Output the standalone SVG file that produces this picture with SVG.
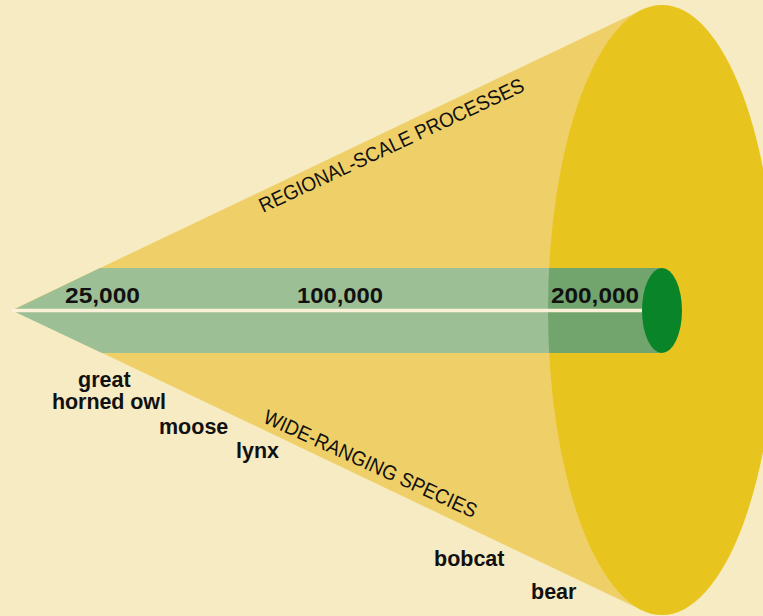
<svg xmlns="http://www.w3.org/2000/svg" width="763" height="616" viewBox="0 0 763 616">
<style>
.num{font-family:"Liberation Sans",Arial,sans-serif;font-weight:bold;font-size:22px;fill:#111}
.lab{font-family:"Liberation Sans",Arial,sans-serif;font-weight:bold;font-size:21.5px;fill:#111}
.rot{font-family:"Liberation Sans",Arial,sans-serif;font-size:20.5px;fill:#111}
</style>
<defs>
<clipPath id="bigClip"><ellipse cx="662" cy="310" rx="114" ry="305"/></clipPath>
</defs>
<rect width="763" height="616" fill="#F7EBC4"/>
<g id="cone">
<polygon points="12,310 642,9.7 642,610.3" fill="#EFD068"/>
</g>
<g id="cylinder">
<ellipse cx="662" cy="310" rx="114" ry="305" fill="#E8C51E"/>
</g>
<g id="band">
<polygon points="12,310.5 100,268 662,268 662,353 102,353" fill="#9DBF96"/>
<polygon points="12,310.5 100,268 662,268 662,353 102,353" fill="#72A56E" clip-path="url(#bigClip)"/>
</g>
<g id="connectors">
<line x1="12" y1="310.5" x2="648" y2="310.5" stroke="#FBF1D8" stroke-width="3.5"/>
</g>
<g id="core">
<ellipse cx="662" cy="310.5" rx="20" ry="42.5" fill="#0A8428"/>
</g>
<g id="scale-labels">
<text class="num" x="65" y="303" textLength="75" lengthAdjust="spacingAndGlyphs">25,000</text>
<text class="num" x="297" y="303" textLength="86" lengthAdjust="spacingAndGlyphs">100,000</text>
<text class="num" x="551" y="303" textLength="88" lengthAdjust="spacingAndGlyphs">200,000</text>
</g>
<g id="regional">
<text class="rot" transform="translate(263,213) rotate(-25)" textLength="290" lengthAdjust="spacingAndGlyphs">REGIONAL-SCALE PROCESSES</text>
</g>
<g id="wide">
<text class="rot" transform="translate(262,422) rotate(24.5)" textLength="232" lengthAdjust="spacingAndGlyphs">WIDE-RANGING SPECIES</text>
</g>
<g id="species">
<text class="lab" x="78" y="387">great</text>
<text class="lab" x="52" y="409" textLength="114">horned owl</text>
<text class="lab" x="159" y="434">moose</text>
<text class="lab" x="236" y="458">lynx</text>
<text class="lab" x="434" y="566">bobcat</text>
<text class="lab" x="531" y="599">bear</text>
</g>
</svg>
